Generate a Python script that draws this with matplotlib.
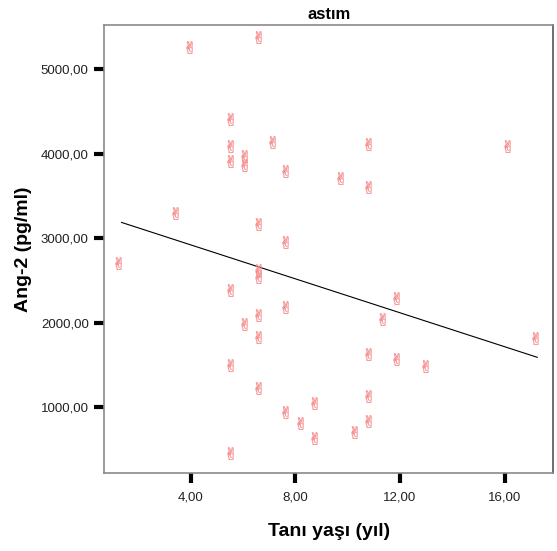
import matplotlib.pyplot as plt
from matplotlib.ticker import FuncFormatter

plt.rcParams['font.family'] = ['Liberation Sans', 'DejaVu Sans']

# Tanı yaşı (yıl) vs Ang-2 (pg/ml)
age = [1.23, 3.40, 3.92, 5.48, 5.48, 5.48, 5.48, 5.48, 5.48,
       6.02, 6.02, 6.02, 6.56, 6.56, 6.56, 6.56, 6.56, 6.56, 6.56,
       7.10, 7.61, 7.61, 7.61, 7.61, 8.16, 8.70, 8.70, 9.72, 10.26,
       10.79, 10.79, 10.79, 10.79, 10.79, 11.33, 11.86, 11.86, 12.95,
       16.11, 17.18]
ang2 = [2708, 3292, 5264, 4412, 4092, 3911, 2385, 1497, 459,
        3970, 3872, 1982, 5382, 3166, 2620, 2540, 2089, 1832, 1221,
        4136, 3796, 2956, 2187, 944, 807, 1044, 637, 3710, 708,
        4112, 3607, 1627, 1134, 838, 2038, 2286, 1564, 1489,
        4089, 1820]

# fit line ends
fit_x = [1.35, 17.25]
fit_y = [3186, 1588]

xticks = [4, 8, 12, 16]
yticks = [1000, 2000, 3000, 4000, 5000]

fig = plt.figure(figsize=(5.57, 5.51), dpi=100)
ax = fig.add_axes([0.1867, 0.1407, 0.807, 0.814])

ax.scatter(age, ang2, marker='$\u270C$', s=80, color='#f58c8c',
           edgecolors='#f58c8c', linewidths=0.25, zorder=3)
ax.plot(fit_x, fit_y, color='black', lw=0.8, zorder=2)

ax.set_xlim(0.68, 17.87)
ax.set_ylim(212, 5525)
ax.set_xticks(xticks)
ax.set_yticks(yticks)
fmt = FuncFormatter(lambda v, p: f'{v:.2f}'.replace('.', ','))
ax.xaxis.set_major_formatter(fmt)
ax.yaxis.set_major_formatter(fmt)
ax.tick_params(direction='out', length=7, width=3, pad=4, labelsize=9.5,
               color='black', labelcolor='#222222')
ax.tick_params(axis='x', pad=6)

for side in ['top', 'left', 'bottom', 'right']:
    ax.spines[side].set_color('#8a8a8a')
    ax.spines[side].set_linewidth(1.2)
ax.spines['right'].set_color('#555555')

ax.set_title('astım', fontsize=12, fontweight='bold', pad=4)
ax.set_xlabel('Tanı yaşı (yıl)', fontsize=14, fontweight='bold', labelpad=14)
ax.set_ylabel('Ang-2 (pg/ml)', fontsize=14, fontweight='bold', labelpad=6)

fig.savefig('out.png', dpi=100)
